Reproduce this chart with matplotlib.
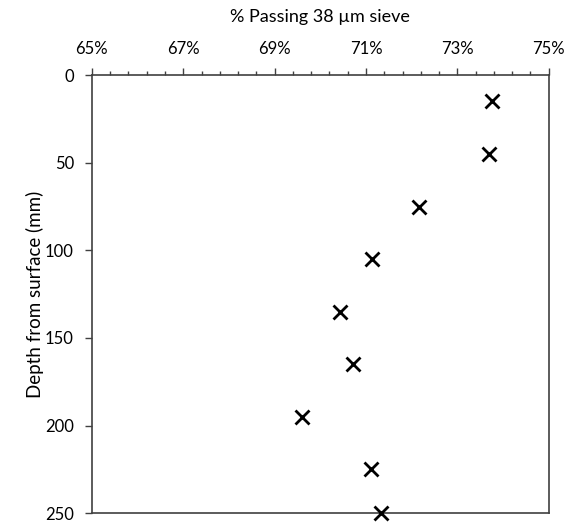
import numpy as np
import matplotlib.pyplot as plt
from matplotlib.ticker import PercentFormatter

# % passing 38 um sieve vs depth
passing = [73.75, 73.69, 72.16, 71.14, 70.43, 70.72, 69.59, 71.10, 71.32]
depth = [15, 45, 75, 105, 135, 165, 195, 225, 250]
x_ticks = [65, 67, 69, 71, 73, 75]
y_ticks = [0, 50, 100, 150, 200, 250]

plt.rcParams['font.family'] = ['Lato', 'DejaVu Sans']

fig = plt.figure(figsize=(5.71, 5.22), dpi=100)
ax = fig.add_axes([0.161, 0.017, 0.8, 0.839])

ax.plot(passing, depth, linestyle='none', marker='x', color='black',
        markersize=10, markeredgewidth=2, clip_on=False, zorder=3)

ax.set_xlim(65, 75)
ax.set_ylim(250, 0)
ax.set_xticks(x_ticks)
ax.set_xticks(np.arange(65, 75.01, 0.4), minor=True)
ax.xaxis.set_major_formatter(PercentFormatter(100, decimals=0))
ax.set_yticks(y_ticks)

ax.xaxis.tick_top()
ax.xaxis.set_label_position('top')
ax.set_xlabel('% Passing 38 µm sieve', fontsize=13, labelpad=14)
ax.set_ylabel('Depth from surface (mm)', fontsize=13.5)
ax.yaxis.set_label_coords(-0.105, 0.5)

for s in ax.spines.values():
    s.set_color('#404040')
    s.set_linewidth(1.2)
ax.tick_params(axis='both', which='major', labelsize=12, color='#404040',
               length=5, width=1, pad=8)
ax.tick_params(axis='x', which='minor', color='#404040', length=3, width=1)

fig.savefig('out.png', dpi=100)
